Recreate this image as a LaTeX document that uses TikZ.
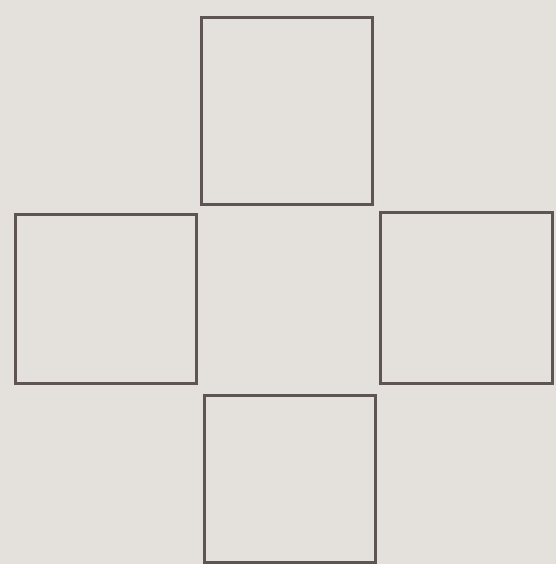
\documentclass[tikz,border=0pt]{standalone}
\definecolor{paper}{HTML}{E4E0DC}
\definecolor{pencil}{HTML}{5E5454}
\begin{document}
\begin{tikzpicture}[x=1pt, y=-1pt, cell/.style={draw=pencil, line width=3pt}]
        \fill[paper] (0,0) rectangle (556,564);
        \useasboundingbox (0,0) rectangle (556,564);
        \draw[cell] (201,18) rectangle (372,204);
        \draw[cell] (15,214) rectangle (196,383);
        \draw[cell] (380,212) rectangle (552,383);
        \draw[cell] (204,395) rectangle (375,562);
        \end{tikzpicture}
\end{document}
